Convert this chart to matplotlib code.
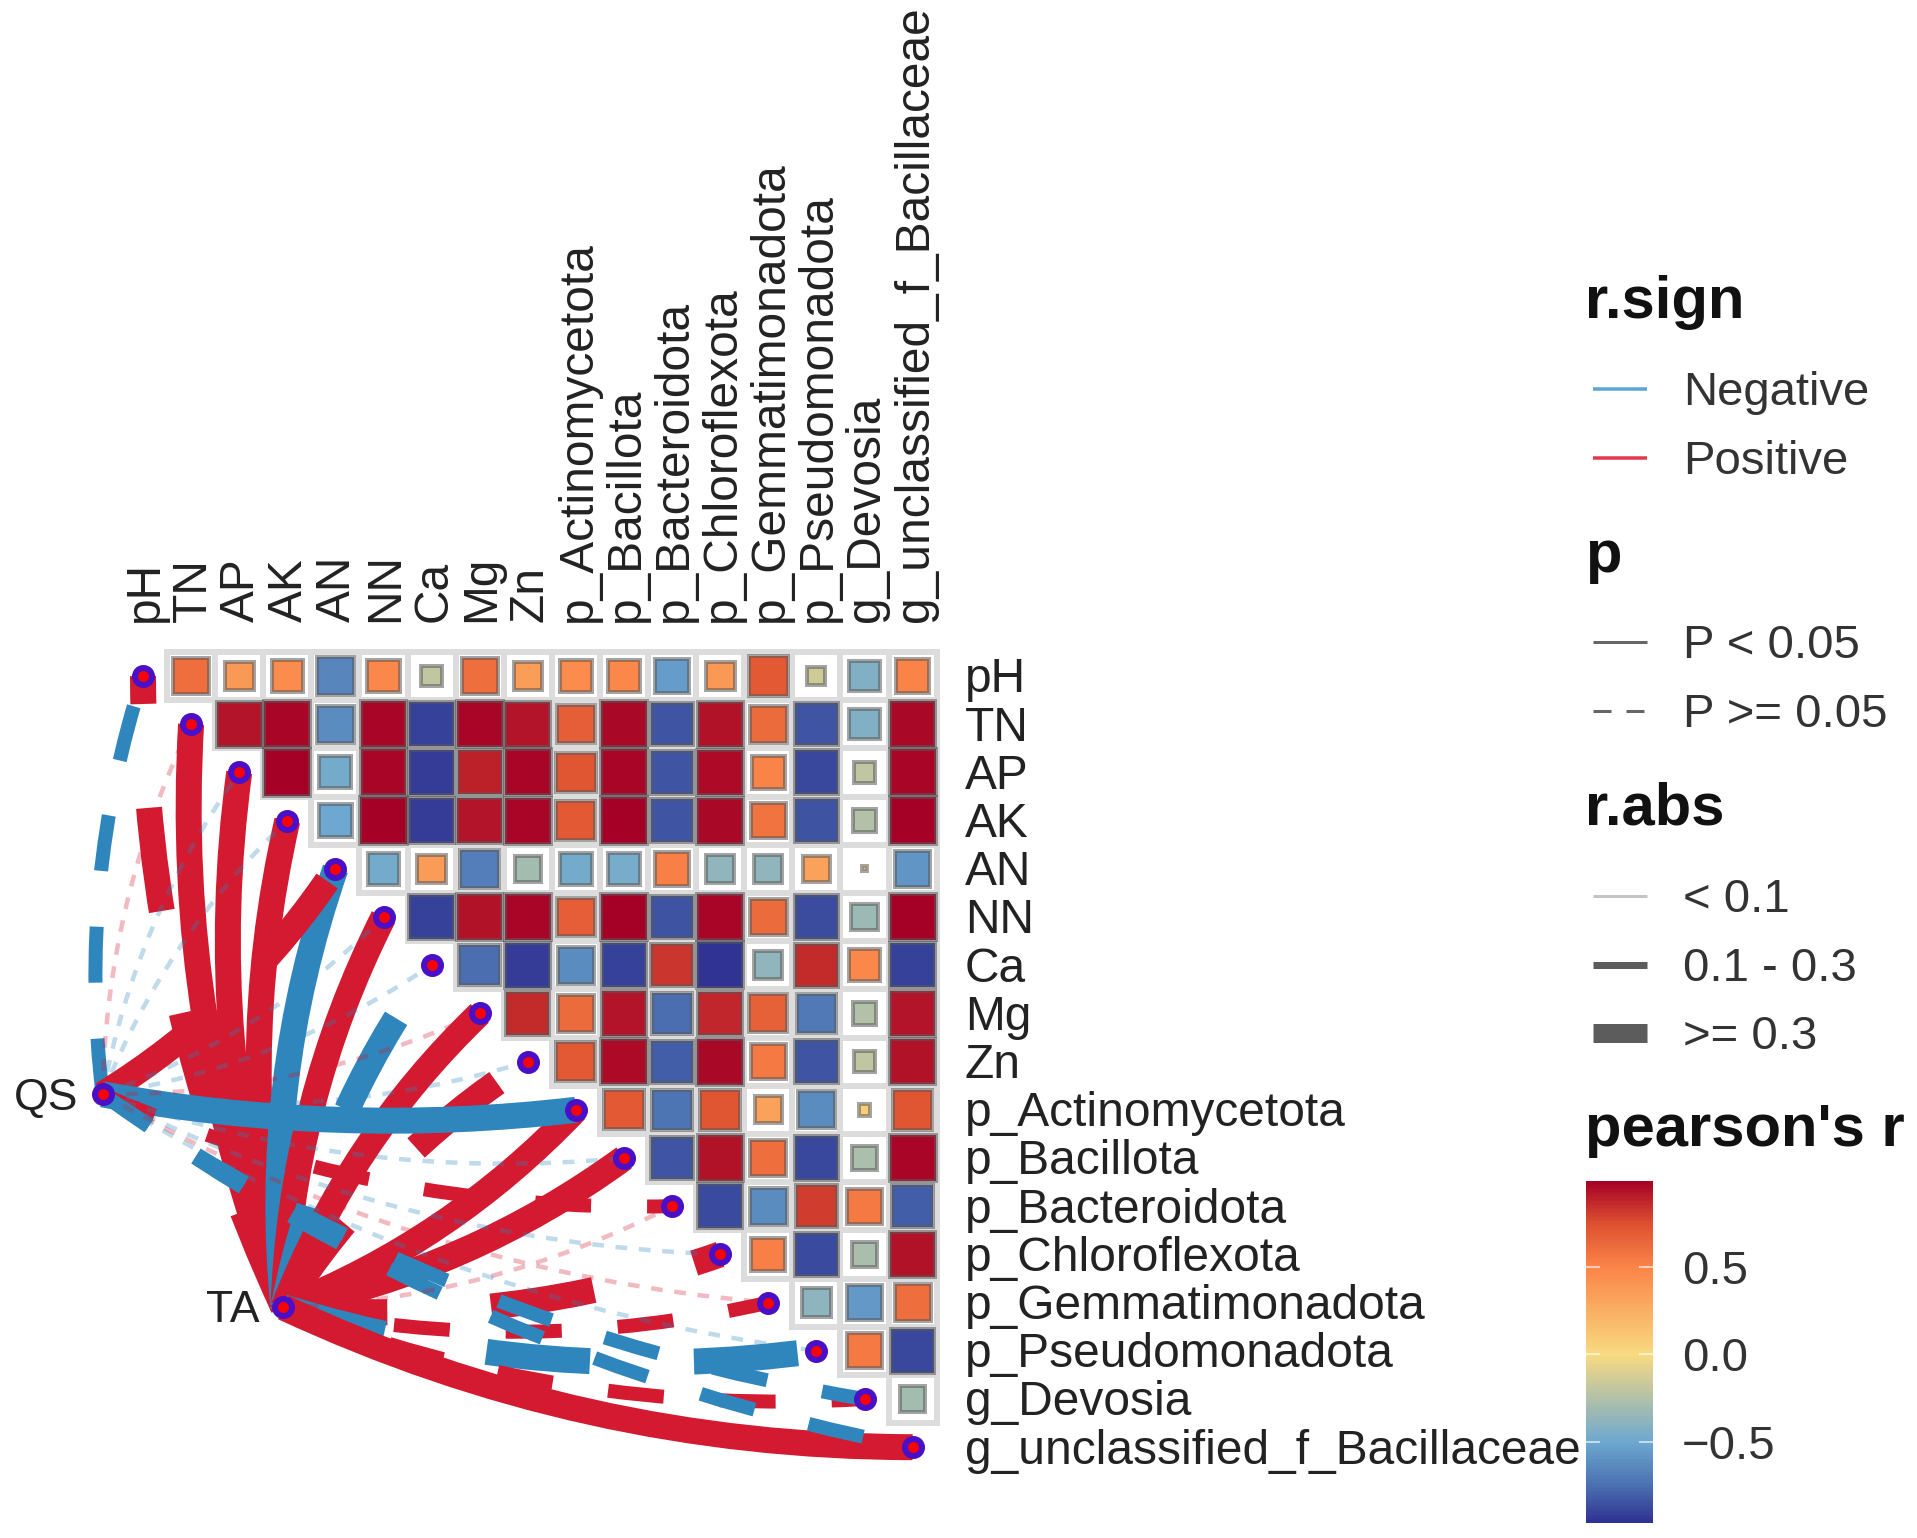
import numpy as np
import matplotlib
matplotlib.use("Agg")
import matplotlib.pyplot as plt
from matplotlib.patches import Rectangle, PathPatch
from matplotlib.path import Path
from matplotlib.cm import ScalarMappable
from matplotlib.colors import Normalize, LinearSegmentedColormap

plt.rcParams['font.family'] = ['Liberation Sans', 'DejaVu Sans']

labels = ["pH", "TN", "AP", "AK", "AN", "NN", "Ca", "Mg", "Zn", "p_Actinomycetota", "p_Bacillota",
          "p_Bacteroidota", "p_Chloroflexota", "p_Gemmatimonadota", "p_Pseudomonadota", "g_Devosia",
          "g_unclassified_f_Bacillaceae"]

# upper triangle of the correlation matrix, one list per row, starting right of the diagonal
r_pH = [.60, .38, .45, -.65, .48, -.20, .60, .35, .45, .48, -.55, .38, .70, -.15, -.42, .50]
r_TN = [.92, .97, -.62, .97, -.90, .97, .92, .68, .96, -.83, .93, .62, -.83, -.42, .96]
r_AP = [.98, -.47, .97, -.92, .88, .97, .72, .97, -.83, .95, .50, -.88, -.20, .97]
r_AK = [-.50, .98, -.92, .92, .97, .70, .98, -.83, .96, .58, -.84, -.25, .98]
r_AN = [-.47, .37, -.68, -.30, -.47, -.46, .52, -.37, -.37, .32, .01, -.58]
r_NN = [-.90, .93, .97, .68, .98, -.84, .97, .62, -.86, -.33, .98]
r_Ca = [-.75, -.92, -.62, -.90, .82, -.95, -.37, .85, .47, -.90]
r_Mg = [.85, .62, .92, -.75, .87, .66, -.70, -.25, .92]
r_Zn = [.70, .95, -.80, .96, .55, -.83, -.20, .93]
r_Act = [.70, -.73, .72, .33, -.62, .06, .72]
r_Bac = [-.83, .93, .60, -.88, -.27, .97]
r_Bct = [-.87, -.62, .80, .55, -.80]
r_Chl = [.52, -.87, -.28, .93]
r_Gem = [-.38, -.57, .60]
r_Pse = [.55, -.88]
r_Dev = [-.30]
matrix_rows = [r_pH, r_TN, r_AP, r_AK, r_AN, r_NN, r_Ca, r_Mg, r_Zn, r_Act, r_Bac, r_Bct, r_Chl, r_Gem, r_Pse, r_Dev]

# env-to-species links
qs_r = [-.20, .05, -.05, -.05, .35, -.05, -.05, .05, -.05, -.60, -.05, .20, -.05, .05, -.05, -.20, -.20]
qs_sig = [0, 0, 0, 0, 0, 0, 0, 0, 0, 1, 0, 0, 0, 0, 0, 0, 0]
ta_r = [.35, .70, .70, .70, -.70, .70, -.35, .70, .35, .60, .70, .05, .35, .20, -.35, .20, .70]
ta_sig = [0, 1, 1, 1, 1, 1, 0, 1, 0, 1, 1, 0, 0, 0, 0, 0, 1]

rmin, rmax = -0.958, 0.986
palette_stops = [-0.958, -0.75, -0.5, 0.0, 0.5, 0.75, 0.986]
palette_cols = ["#2f3192", "#4a6fb0", "#6ca8d0", "#f8da80", "#fb8448", "#dc4f30", "#a50026"]

px = 0.72  # points per pixel at dpi 100
fig = plt.figure(figsize=(19.17, 15.38), dpi=100)
ax = fig.add_axes([0, 0, 1, 1])
X0, Y0, DX, DY = 143.0, 676.0, 48.1, 48.2
ax.set_xlim(-X0 / DX, (1917 - X0) / DX)
ax.set_ylim((1538 - Y0) / DY, -Y0 / DY)
ax.axis("off")

norm = Normalize(rmin, rmax)
cmap = LinearSegmentedColormap.from_list(
    "pearson", [(norm(s), c) for s, c in zip(palette_stops, palette_cols)])

# tile backgrounds first, then squares
for i, row in enumerate(matrix_rows):
    for k, v in enumerate(row):
        j = i + 1 + k
        ax.add_patch(Rectangle((j - .5, i - .5), 1, 1, fc="white", ec="#dcdcdc", lw=6 * px, zorder=1))
for i, row in enumerate(matrix_rows):
    for k, v in enumerate(row):
        j = i + 1 + k
        s = np.sqrt(abs(v)) * 0.97
        ax.add_patch(Rectangle((j - s / 2, i - s / 2), s, s, fc=cmap(norm(v)),
                               ec=(.35, .35, .35, .55), lw=4 * px, zorder=2))

for i, t in enumerate(labels):
    ax.text(i + 0.05, (622 - Y0) / DY, t, rotation=90, ha="center", va="bottom", fontsize=34.5, color="#222222")
    ax.text((965 - X0) / DX, i + 0.08, t, ha="left", va="center", fontsize=34.5, color="#222222")


def link(p0, p1, r, sig, rad=0.11):
    p0, p1 = np.array(p0, float), np.array(p1, float)
    d = p1 - p0
    n = np.array([-d[1], d[0]])
    if n @ np.array([-1, 1]) < 0:
        n = -n
    c = (p0 + p1) / 2 + rad * n
    a = abs(r)
    if a < .1:
        w, alpha, ls, z = 4.5, 0.3, (0, (2.6, 2.6)), 5
    else:
        w, alpha, ls, z = (14 if a < .3 else 26), 1, (0, (4, 4)), 4
    if sig:
        ls = "-"
    col = "#d31a31" if r > 0 else "#2e86bc"
    ax.add_patch(PathPatch(Path([p0, c, p1], [Path.MOVETO, Path.CURVE3, Path.CURVE3]), fill=False,
                           ec=col, lw=w * px, ls=ls, alpha=alpha, zorder=z, capstyle="butt"))


QS = (-0.84, 8.68)
TA = (2.92, 13.1)
for i in range(len(labels)):
    link(TA, (i, i), ta_r[i], ta_sig[i])
for i in range(len(labels)):
    link(QS, (i, i), qs_r[i], qs_sig[i], rad=0.075 if qs_sig[i] else 0.11)

ids = np.arange(len(labels))
ax.plot(list(ids) + [QS[0], TA[0]], list(ids) + [QS[1], TA[1]], ls="none", marker="o", ms=17 * px,
        mfc="#ff0000", mec="#4a10c8", mew=6 * px, zorder=8)
ax.text(QS[0] - 0.5, QS[1] + 0.08, "QS", ha="right", va="center", fontsize=32, color="#222222")
ax.text(TA[0] - 0.5, TA[1] + 0.06, "TA", ha="right", va="center", fontsize=32, color="#222222")

# legends, laid out in figure pixels
lg = fig.add_axes([0, 0, 1, 1], facecolor="none")
lg.set_xlim(0, 1917)
lg.set_ylim(1538, 0)
lg.axis("off")
LX0, LX1, TX, HX = 1593, 1647, 1683, 1585


def title(y, s):
    lg.text(HX, y, s, fontsize=43, fontweight="bold", va="center", ha="left", color="#111111")


def key(y, s, color, w, ls="-"):
    lg.plot([LX0, LX1], [y, y], color=color, lw=w * px, ls=ls, solid_capstyle="butt", dash_capstyle="butt")
    lg.text(TX, y + 4, s, fontsize=34, va="center", ha="left", color="#333333")


title(302, "r.sign")
key(389, "Negative", "#5aa6d2", 3.5)
key(458, "Positive", "#e23a50", 3.5)
title(557, "p")
key(642, "P < 0.05", "#666666", 3)
key(711, "P >= 0.05", "#666666", 3, (0, (6, 5)))
title(809, "r.abs")
key(896, "< 0.1", "#c4c4c4", 3)
key(965, "0.1 - 0.3", "#5c5c5c", 7)
key(1033, ">= 0.3", "#5c5c5c", 19)
title(1130, "pearson's r")

cax = fig.add_axes([1586 / 1917, 1 - 1523 / 1538, 67 / 1917, 342 / 1538])
cb = fig.colorbar(ScalarMappable(norm=norm, cmap=cmap), cax=cax)
cb.outline.set_visible(False)
cb.set_ticks([-0.5, 0, 0.5], labels=["\u22120.5", "0.0", "0.5"])
cax.tick_params(length=0, pad=29 * px, labelsize=34, labelcolor="#333333")
for v in [-0.5, 0, 0.5]:
    cax.plot([0, .2], [v, v], color="white", lw=2 * px, alpha=.6)
    cax.plot([.8, 1], [v, v], color="white", lw=2 * px, alpha=.6)
cax.set_xlim(0, 1)
cax.set_ylim(rmin, rmax)

fig.savefig("out.png", dpi=100)
